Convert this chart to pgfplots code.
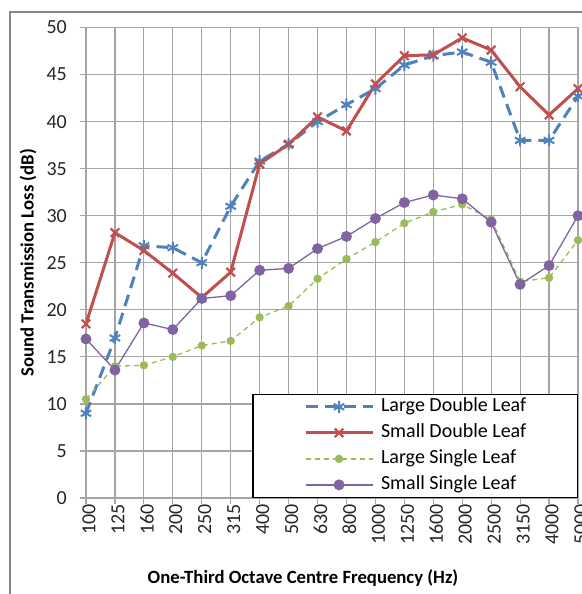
\documentclass[border=0pt]{standalone}
\usepackage{fontspec}
\setmainfont{Carlito}
\usepackage{pgfplots}
\pgfplotsset{compat=1.18}
\usepackage{pgfplotstable}

\definecolor{cBlue}{RGB}{79,129,189}
\definecolor{cRed}{RGB}{192,80,77}
\definecolor{cGreen}{RGB}{155,187,89}
\definecolor{cPurple}{RGB}{128,100,162}
\definecolor{cGrid}{RGB}{165,165,165}
\definecolor{cFrame}{RGB}{134,134,134}

% Sound transmission loss (dB) per one-third octave band
% idx: band index, LD: large double leaf, SD: small double leaf,
% LS: large single leaf, SS: small single leaf
\pgfplotstableread{
idx  LD    SD    LS    SS
0    9.0   18.5  10.5  16.9
1    17.0  28.2  14.0  13.6
2    26.8  26.3  14.1  18.6
3    26.6  23.9  15.0  17.9
4    25.0  21.3  16.2  21.2
5    31.0  24.0  16.7  21.5
6    35.8  35.5  19.2  24.2
7    37.6  37.6  20.4  24.4
8    40.0  40.5  23.3  26.5
9    41.8  39.0  25.4  27.8
10   43.5  44.0  27.2  29.7
11   46.0  47.0  29.2  31.4
12   47.0  47.1  30.4  32.2
13   47.4  48.9  31.2  31.8
14   46.3  47.6  29.6  29.3
15   38.0  43.7  23.0  22.7
16   38.0  40.7  23.4  24.7
17   42.7  43.5  27.4  30.0
}\tloss

\begin{document}
\begin{tikzpicture}
\clip (-86bp,-96bp) rectangle (496bp,498bp);
% outer chart frame
\draw[cFrame, line width=2bp] (-76bp,-200bp) |- (700bp,486bp);
\begin{axis}[
  scale only axis,
  width=492bp, height=470.5bp,
  xmin=0, xmax=17, ymin=0, ymax=50,
  xtick={0,...,17},
  xticklabels={100,125,160,200,250,315,400,500,630,800,1000,1250,1600,2000,2500,3150,4000,5000},
  ytick={0,5,...,50},
  grid=major,
  major grid style={cGrid, line width=1.2bp},
  axis line style={cGrid, line width=1.2bp},
  tick style={cGrid, line width=1.2bp},
  tick align=outside,
  tick pos=left,
  major tick length=6bp,
  /pgf/number format/assume math mode=true,
  ticklabel style={font=\fontsize{20bp}{24bp}\selectfont, text=black!85},
  xticklabel style={rotate=90, anchor=east, inner sep=0pt, yshift=-3bp},
  yticklabel style={anchor=east, inner sep=0pt, xshift=-13bp},
  xlabel={One-Third Octave Centre Frequency (Hz)},
  ylabel={Sound Transmission Loss (dB)},
  label style={font=\bfseries\fontsize{18.7bp}{22bp}\selectfont},
  xlabel style={at={(axis description cs:0,0)}, anchor=center, xshift=217bp, yshift=-80bp},
  ylabel style={at={(axis description cs:-0.1179,0.5)}, anchor=center},
  legend cell align=left,
  legend style={
    at={(rel axis cs:1,0)}, anchor=south east,
    draw=black, line width=1.3bp,
    font=\fontsize{20bp}{24bp}\selectfont,
    inner xsep=51bp, inner ysep=4bp,
    row sep=9bp, column sep=7bp,
    nodes={inner sep=0pt, text height=13bp, text depth=4bp},
  },
  legend image code/.code={
    \draw[mark repeat=2, mark phase=2, #1]
      plot coordinates {(0bp,0bp) (33.5bp,0bp) (67bp,0bp)};
  },
  every axis plot/.append style={line join=round},
]
\addplot[cBlue, line width=3bp, dash pattern=on 12bp off 7bp,
  mark=asterisk, mark size=6bp, mark options={solid, line width=2bp}]
  table[x=idx, y=LD]{\tloss};
\addlegendentry{Large Double Leaf}
\addplot[cRed, line width=3bp,
  mark=x, mark size=6bp, mark options={solid, line width=2.2bp}]
  table[x=idx, y=SD]{\tloss};
\addlegendentry{Small Double Leaf}
\addplot[cGreen, line width=1.3bp, dash pattern=on 5bp off 4bp,
  mark=*, mark size=3.5bp, mark options={solid, draw=cGreen, fill=cGreen}]
  table[x=idx, y=LS]{\tloss};
\addlegendentry{Large Single Leaf}
\addplot[cPurple, line width=1.3bp,
  mark=*, mark size=4.8bp, mark options={solid, draw=cPurple, fill=cPurple}]
  table[x=idx, y=SS]{\tloss};
\addlegendentry{Small Single Leaf}
\end{axis}
\end{tikzpicture}
\end{document}
